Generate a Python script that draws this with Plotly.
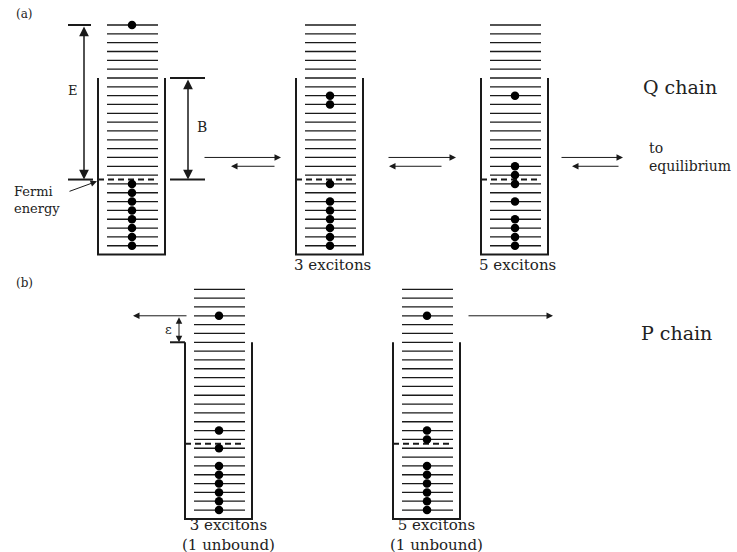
import plotly.graph_objects as go

# ---------------- data ----------------
N_LEVELS = 26                      # single-particle levels, index 0 = highest
levels = list(range(N_LEVELS))
fermi_level = 17.5                 # Fermi energy sits between level 17 and 18
well_top_level = 6                 # top of the potential well (binding energy B)
well_bottom_level = 26

# panel (a): Q chain
wells_a_x = [132, 330, 515]
wells_a_occupied = [
    [0, 18, 19, 20, 21, 22, 23, 24, 25],
    [8, 9, 18, 20, 21, 22, 23, 24, 25],
    [8, 16, 17, 18, 20, 22, 23, 24, 25],
]
wells_a_labels = ["", "3 excitons", "5 excitons"]

# panel (b): P chain
wells_b_x = [219, 427]
wells_b_occupied = [
    [3, 16, 18, 20, 21, 22, 23, 24, 25],
    [3, 16, 17, 20, 21, 22, 23, 24, 25],
]
wells_b_labels = ["3 excitons<br>(1 unbound)", "5 excitons<br>(1 unbound)"]

# ---------------- layout helpers ----------------
W, H = 737, 552
PX_PER_LEVEL = 8.83
TOP_A = 25.0      # pixel row of level 0 in panel (a)
TOP_B = 289.3     # pixel row of level 0 in panel (b)
LINE_L, LINE_R = -25, 26
WALL_L, WALL_R = -34, 33
INK = "#1a1a1a"
FONT = "DejaVu Serif"

def yrange(top_px):
    return [(H - top_px) / PX_PER_LEVEL, -top_px / PX_PER_LEVEL]

fig = go.Figure()

def add_wells(xs, occ, yaxis):
    lx, ly, wx, wy, fx, fy, dx, dy = [], [], [], [], [], [], [], []
    for c, o in zip(xs, occ):
        for L in levels:
            lx += [c + LINE_L, c + LINE_R, None]
            ly += [L, L, None]
        wx += [c + WALL_L, c + WALL_L, c + WALL_R, c + WALL_R, None]
        wy += [well_top_level, well_bottom_level, well_bottom_level, well_top_level, None]
        fx += [c + WALL_L, c + LINE_R, None]
        fy += [fermi_level, fermi_level, None]
        dx += [c] * len(o)
        dy += o
    fig.add_trace(go.Scatter(x=lx, y=ly, mode="lines", yaxis=yaxis,
                             line=dict(color=INK, width=1.3), hoverinfo="skip"))
    fig.add_trace(go.Scatter(x=wx, y=wy, mode="lines", yaxis=yaxis,
                             line=dict(color=INK, width=2), hoverinfo="skip"))
    fig.add_trace(go.Scatter(x=fx, y=fy, mode="lines", yaxis=yaxis,
                             line=dict(color=INK, width=2, dash="6px,4px"), hoverinfo="skip"))
    fig.add_trace(go.Scatter(x=dx, y=dy, mode="markers", yaxis=yaxis,
                             marker=dict(color="black", size=8.5), hoverinfo="skip"))

add_wells(wells_a_x, wells_a_occupied, "y")
add_wells(wells_b_x, wells_b_occupied, "y2")

# reference ticks for E and B (panel a) and well top (panel b)
c1 = wells_a_x[0]
fig.add_trace(go.Scatter(
    x=[68, 91, None, 68, c1 - 39, None, c1 + 38, 205, None, c1 + 38, 205],
    y=[0, 0, None, fermi_level, fermi_level, None, fermi_level, fermi_level, None,
       well_top_level, well_top_level],
    mode="lines", line=dict(color=INK, width=2), hoverinfo="skip"))
c4 = wells_b_x[0]
fig.add_trace(go.Scatter(x=[170, c4 + WALL_L], y=[well_top_level, well_top_level],
                         yaxis="y2", mode="lines", line=dict(color=INK, width=2),
                         hoverinfo="skip"))

ann = []
def arrow(x0, y0, x1, y1, yref="y", both=False, width=1.0):
    ann.append(dict(x=x1, y=y1, ax=x0, ay=y0, xref="x", yref=yref, axref="x", ayref=yref,
                    showarrow=True, arrowhead=2, arrowsize=1.3, arrowwidth=width,
                    arrowcolor=INK, text="", arrowside="end+start" if both else "end",
                    standoff=0, startstandoff=0))

def text(x, y, s, yref="y", size=13, xanchor="center", align="center"):
    ann.append(dict(x=x, y=y, xref="x", yref=yref, text=s, showarrow=False,
                    xanchor=xanchor, yanchor="middle", align=align,
                    font=dict(family=FONT, size=size, color="#222")))

# E and B double arrows
arrow(84, 0, 84, fermi_level, both=True, width=1.5)
arrow(188, well_top_level, 188, fermi_level, both=True, width=1.5)
# Fermi-energy pointer
arrow(68, 18.9, 97, 17.7)
# equilibrium arrow pairs (levels 15 / 16)
for (r0, r1), (l0, l1) in [((203, 281), (276, 231)), ((387, 456), (443, 389)),
                           ((560, 623), (620, 572))]:
    arrow(r0, 15, r1, 15)
    arrow(l0, 16, l1, 16)
# panel (b) emission arrows at level 3
arrow(188, 3, 133, 3, yref="y2")
arrow(467, 3, 553, 3, yref="y2")
# epsilon arrow
arrow(179, 3, 179, well_top_level, yref="y2", both=True)

# texts
text(24, -1.25, "(a)", size=12)
text(73, 7.4, "E", size=13)
text(202, 11.5, "B", size=14)
text(12, 19.8, "Fermi<br>energy", size=13, xanchor="left", align="left")
for c, s in zip(wells_a_x, wells_a_labels):
    if s:
        text(c + 2, 27.2, s, size=15)
text(641, 7.0, "Q chain", size=19, xanchor="left")
text(647, 14.9, "to<br>equilibrium", size=14, xanchor="left", align="left")
text(24, -0.7, "(b)", yref="y2", size=12)
text(168, 4.6, "ε", yref="y2", size=13)
for c, s in zip(wells_b_x, wells_b_labels):
    text(c + 9, 27.8, s, yref="y2", size=15)
text(639, 4.95, "P chain", yref="y2", size=19, xanchor="left")

fig.update_layout(
    width=W, height=H, margin=dict(l=0, r=0, t=0, b=0),
    paper_bgcolor="white", plot_bgcolor="white", showlegend=False,
    xaxis=dict(range=[0, W], visible=False, fixedrange=True),
    yaxis=dict(range=yrange(TOP_A), visible=False, fixedrange=True),
    yaxis2=dict(range=yrange(TOP_B), visible=False, fixedrange=True, overlaying="y"),
    annotations=ann,
)
fig.write_html("out.html", config={"displayModeBar": False},
               post_script="document.body.style.margin='0';document.body.style.overflow='hidden';")
